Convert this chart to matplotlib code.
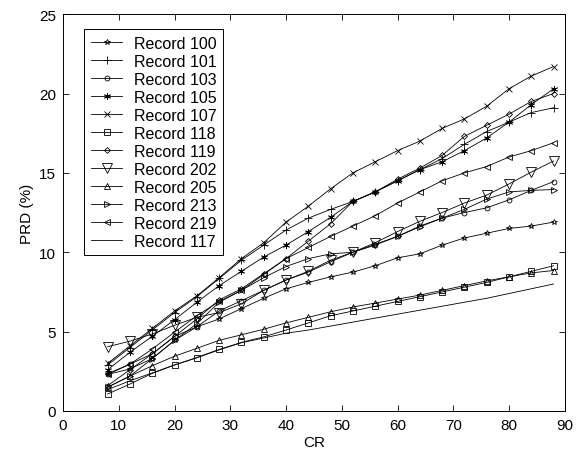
import matplotlib
matplotlib.use('Agg')
import matplotlib.pyplot as plt

plt.rcParams['font.family'] = ['Liberation Sans', 'DejaVu Sans']

cr = [8, 12, 16, 20, 24, 28, 32, 36, 40, 44, 48, 52, 56, 60, 64, 68, 72, 76, 80, 84, 88]

rec100 = [2.3, 2.65, 3.3, 4.45, 5.3, 5.8, 6.45, 7.1, 7.7, 8.1, 8.45, 8.75, 9.15, 9.65, 9.9, 10.45, 10.9, 11.2, 11.5, 11.65, 11.9]
rec101 = [2.9, 4.0, 5.1, 6.2, 7.2, 8.35, 9.5, 10.45, 11.4, 12.15, 12.7, 13.2, 13.8, 14.5, 15.2, 15.9, 16.8, 17.6, 18.2, 18.8, 19.1]
rec103 = [2.3, 2.95, 3.6, 4.7, 5.3, 6.3, 6.95, 7.6, 8.25, 8.75, 9.4, 10.0, 10.45, 11.0, 11.65, 12.15, 12.5, 12.8, 13.3, 13.9, 14.45]
rec105 = [2.6, 3.7, 4.7, 5.75, 6.85, 7.9, 8.8, 9.7, 10.45, 11.3, 12.2, 13.2, 13.8, 14.5, 15.2, 15.7, 16.4, 17.2, 18.2, 19.3, 20.3]
rec107 = [3.0, 4.1, 5.2, 6.3, 7.25, 8.4, 9.6, 10.6, 11.9, 12.9, 14.0, 15.0, 15.7, 16.4, 17.0, 17.8, 18.4, 19.2, 20.3, 21.1, 21.7]
rec118 = [1.07, 1.7, 2.37, 2.9, 3.37, 3.88, 4.32, 4.67, 5.1, 5.55, 6.0, 6.3, 6.6, 6.9, 7.2, 7.5, 7.8, 8.1, 8.45, 8.8, 9.15]
rec119 = [1.6, 2.6, 3.6, 4.7, 5.8, 7.0, 7.7, 8.65, 9.6, 10.7, 11.8, 13.2, 13.8, 14.6, 15.3, 16.1, 17.3, 18.0, 18.7, 19.5, 20.0]
rec202 = [4.05, 4.4, 4.85, 5.4, 5.9, 6.2, 6.75, 7.6, 8.25, 8.8, 9.5, 10.0, 10.6, 11.3, 11.95, 12.5, 13.1, 13.6, 14.3, 15.05, 15.75]
rec205 = [1.5, 2.2, 2.85, 3.45, 3.95, 4.45, 4.8, 5.15, 5.55, 5.9, 6.25, 6.55, 6.8, 7.05, 7.3, 7.6, 7.9, 8.2, 8.45, 8.7, 8.85]
rec213 = [1.5, 2.2, 3.3, 4.45, 5.5, 6.85, 7.6, 8.4, 9.1, 9.6, 9.9, 10.0, 10.5, 11.0, 11.6, 12.15, 12.7, 13.35, 13.8, 13.9, 13.95]
rec219 = [2.35, 2.95, 3.9, 4.97, 6.0, 6.9, 7.6, 8.6, 9.6, 10.3, 11.0, 11.65, 12.3, 13.1, 13.8, 14.5, 15.0, 15.4, 16.0, 16.4, 16.9]
rec117 = [1.35, 1.9, 2.4, 2.9, 3.35, 3.85, 4.3, 4.6, 4.9, 5.1, 5.35, 5.6, 5.85, 6.1, 6.35, 6.6, 6.85, 7.1, 7.4, 7.7, 8.0]

series = [
    ('Record 100', rec100, '*', 4),
    ('Record 101', rec101, '+', 6),
    ('Record 103', rec103, 'o', 3.5),
    ('Record 105', rec105, (6, 2, 0), 5),
    ('Record 107', rec107, 'x', 4),
    ('Record 118', rec118, 's', 4.5),
    ('Record 119', rec119, 'D', 3),
    ('Record 202', rec202, 'v', 7),
    ('Record 205', rec205, '^', 4),
    ('Record 213', rec213, '>', 4),
    ('Record 219', rec219, '<', 4),
    ('Record 117', rec117, None, 0),
]

fig = plt.figure(figsize=(5.84, 4.52), dpi=100)
ax = fig.add_axes([0.108, 0.0885, 0.859, 0.878])

for label, vals, mk, ms in series:
    ax.plot(cr, vals, color='black', lw=0.6, marker=mk, markersize=ms,
            markerfacecolor='none', markeredgecolor='black',
            markeredgewidth=0.6, label=label)

ax.set_xlim(0, 90)
ax.set_ylim(0, 25)
ax.set_xticks(range(0, 91, 10))
ax.set_yticks(range(0, 26, 5))
ax.tick_params(direction='in', length=4, width=0.6, top=True, right=True,
               labelsize=11, pad=5)
for s in ax.spines.values():
    s.set_linewidth(0.7)
ax.set_xlabel('CR', fontsize=11, labelpad=2)
ax.set_ylabel('PRD (%)', fontsize=11, labelpad=4)

leg = ax.legend(loc='upper left', bbox_to_anchor=(0.042, 0.962),
                borderaxespad=0, fontsize=11.5, fancybox=False,
                edgecolor='black', framealpha=1, handlelength=2.0,
                labelspacing=0.19, borderpad=0.4, handletextpad=0.7)
leg.get_frame().set_linewidth(0.7)

fig.savefig('out.png', dpi=100)
